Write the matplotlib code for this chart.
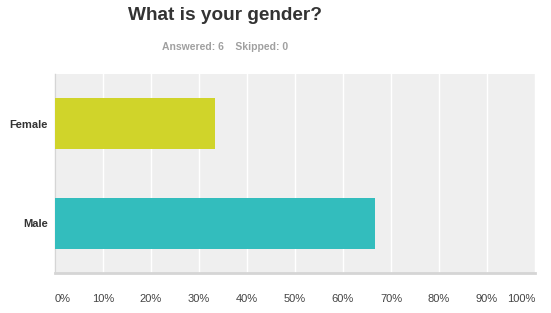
import matplotlib
matplotlib.use('Agg')
import matplotlib.pyplot as plt

categories = ['Female', 'Male']
percents = [33.33, 66.67]
colors = ['#d0d42a', '#33bdbd']
ticks = list(range(0, 101, 10))
tick_labels = [str(t) + '%' for t in ticks]

plt.rcParams['font.family'] = ['Liberation Sans', 'DejaVu Sans']

fig = plt.figure(figsize=(5.51, 3.13), dpi=100)
ax = fig.add_axes([55 / 551, 1 - 273 / 313, 480 / 551, 199 / 313])

ax.set_facecolor('#efefef')
ypos = list(range(len(categories)))
ax.barh(ypos, percents, height=0.51, color=colors, zorder=3)
ax.set_ylim(len(categories) - 0.5, -0.5)
ax.set_xlim(0, 100)

ax.set_xticks(ticks)
ax.set_xticklabels(tick_labels, fontsize=8, color='#444444')
# first and last labels kept inside the plot width
xl = ax.get_xticklabels()
xl[0].set_horizontalalignment('left')
xl[-1].set_horizontalalignment('right')
ax.set_yticks(ypos)
ax.set_yticklabels(categories, fontsize=8, fontweight='bold', color='#333333')
ax.tick_params(length=0)
ax.tick_params(axis='x', pad=15)
ax.tick_params(axis='y', pad=5)

ax.xaxis.grid(True, color='white', linewidth=1, zorder=1)
ax.set_axisbelow(True)

for s in ['top', 'right']:
    ax.spines[s].set_visible(False)
ax.spines['left'].set_color('#d5d5d5')
ax.spines['left'].set_linewidth(1)
ax.spines['bottom'].set_color('#d5d5d5')
ax.spines['bottom'].set_linewidth(2)

fig.text(225 / 551, 1 - 16 / 313, 'What is your gender?', ha='center', va='center',
         fontsize=13.7, fontweight='bold', color='#333333')
fig.text(225 / 551, 1 - 47 / 313, 'Answered: 6    Skipped: 0', ha='center', va='center',
         fontsize=7.5, fontweight='bold', color='#a0a0a0')

plt.savefig('out.png', dpi=100)
plt.close()
